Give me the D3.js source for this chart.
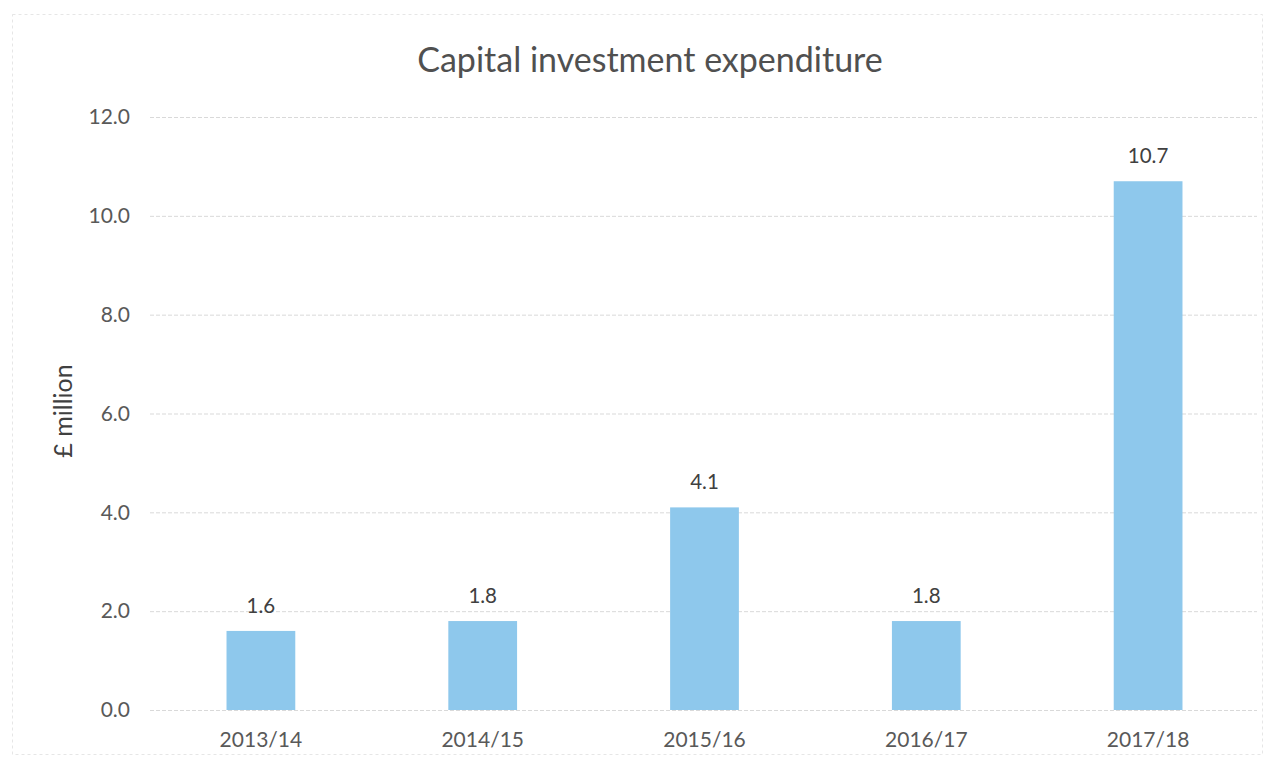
<!DOCTYPE html>
<html><head><meta charset="utf-8">
<script src="https://cdn.jsdelivr.net/npm/d3@7"></script>
<style>body{margin:0;background:#fff}svg{display:block}text{font-family:Lato,"Open Sans",sans-serif}</style>
</head><body><svg id="c" width="1275" height="762"></svg>
<script>
const categories = ["2013/14","2014/15","2015/16","2016/17","2017/18"];
const values = [1.6, 1.8, 4.1, 1.8, 10.7];
const valueLabels = ["1.6","1.8","4.1","1.8","10.7"];
const yTicks = [0,2,4,6,8,10,12];
const title = "Capital investment expenditure";
const yTitle = "£ million";

const svg = d3.select("#c");
svg.append("rect").attr("x",12.5).attr("y",14.5).attr("width",1250).attr("height",740)
  .attr("fill","none").attr("stroke","#e6e6e6").attr("stroke-dasharray","3,3");

const x = d3.scaleBand().domain(categories).range([150,1259]).paddingInner(0.69).paddingOuter(0.345);
const y = d3.scaleLinear().domain([0,12]).range([710,117]);

const ya = svg.append("g").attr("transform","translate(150,0)")
  .call(d3.axisLeft(y).tickValues(yTicks).tickFormat(d3.format(".1f")).tickSize(-1107).tickPadding(20));
ya.select(".domain").remove();
ya.selectAll(".tick line").attr("stroke","#d9d9d9").attr("stroke-dasharray","4,2");
ya.selectAll(".tick text").attr("fill","#595959").style("font-size","21px");

svg.append("g").selectAll("rect").data(values).join("rect")
  .attr("x",(d,i)=>x(categories[i])).attr("width",x.bandwidth())
  .attr("y",d=>y(d)).attr("height",d=>y(0)-y(d)).attr("fill","#8ec8ec");

svg.append("g").selectAll("text").data(values).join("text")
  .attr("x",(d,i)=>x(categories[i])+x.bandwidth()/2).attr("y",d=>y(d)-18)
  .attr("text-anchor","middle").attr("fill","#404040").style("font-size","20.5px")
  .text((d,i)=>valueLabels[i]);

const xa = svg.append("g").attr("transform","translate(0,710)")
  .call(d3.axisBottom(x).tickSize(0).tickPadding(22));
xa.select(".domain").remove();
xa.selectAll(".tick text").attr("fill","#595959").style("font-size","21px");

svg.append("text").attr("x",650).attr("y",72).attr("text-anchor","middle")
  .attr("fill","#505050").style("font-size","34px").text(title);
svg.append("text").attr("transform","translate(72,411) rotate(-90)").attr("text-anchor","middle")
  .attr("fill","#404040").style("font-size","25px").text(yTitle);
</script></body></html>
